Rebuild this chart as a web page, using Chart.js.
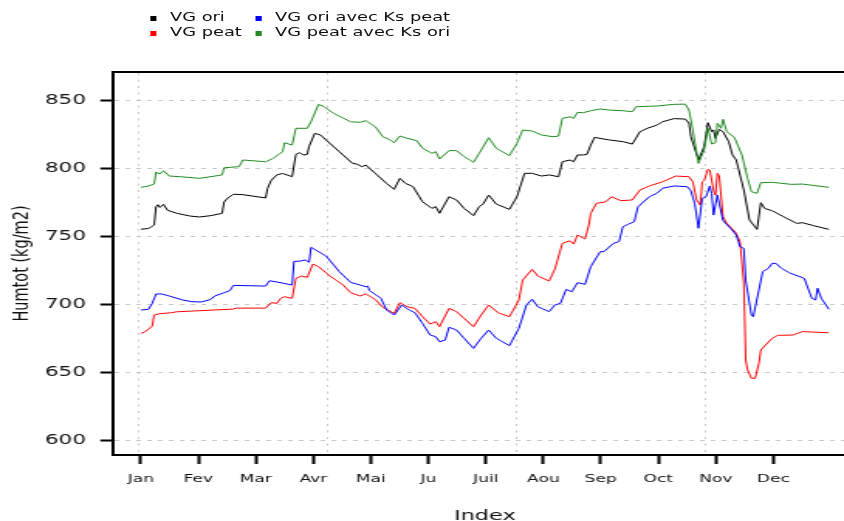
<!DOCTYPE html>
<html>
<head>
<meta charset="utf-8">
<script src="https://cdn.jsdelivr.net/npm/chart.js@4.4.0/dist/chart.umd.min.js"></script>
<style>
  html, body { margin: 0; padding: 0; background: #fff; overflow: hidden; width: 844px; height: 521px; }
  /* the reference is a plot stretched sideways, so draw narrow and stretch */
  #stage { position: absolute; left: 0; top: 0; width: 560px; height: 525px; transform: scaleX(1.5486); transform-origin: 0 0; }
  #legend { position: absolute; left: 0; top: 0; font-family: "DejaVu Sans", sans-serif; font-size: 11.5px; color: #111; }
  .item { position: absolute; white-space: nowrap; height: 15px; line-height: 15px; }
  .item i { position: absolute; left: 0; top: 5.5px; width: 4.6px; height: 5.2px; }
  .item span { position: absolute; left: 12.9px; top: 0; }
</style>
</head>
<body>
<div id="stage">
  <canvas id="chart"></canvas>
  <div id="legend"></div>
</div>
<script>
const seriesNames = ["VG ori", "VG peat", "VG ori avec Ks peat", "VG peat avec Ks ori"];
const seriesColors = ["#000000", "#ff0000", "#0000ff", "#228b22"];
const monthLabels = ["Jan", "Fev", "Mar", "Avr", "Mai", "Ju", "Juil", "Aou", "Sep", "Oct", "Nov", "Dec"];
const yTicks = [600, 650, 700, 750, 800, 850];
const gridDays = [0, 100, 200, 300];

// VG ori (black)
const oriDays = [1, 5, 8, 9, 10, 11, 13, 15, 20, 27, 32, 38, 44, 45, 47, 50, 55, 67, 68, 70, 73, 76, 81, 83, 85, 87, 89, 90, 93, 96,
  106, 113, 115, 118, 120, 125, 131, 135, 138, 141, 145, 150, 155, 157, 159, 164, 168, 172, 177, 180, 182, 185, 189, 196, 200,
  204, 208, 213, 217, 222, 224, 228, 230, 232, 235, 237, 239, 241, 249, 256, 261, 265, 269, 274, 277, 283, 289, 291, 292, 296,
  299, 301, 303, 304, 305, 307, 309, 312, 314, 316, 320, 323, 327, 329, 331, 335, 341, 348, 351, 357, 365];
const oriValues = [755, 755.5, 758, 771.5, 773, 771, 773.3, 769, 766.7, 764.7, 764, 765, 766.7, 775, 778, 780.7, 780.4, 778, 785, 791, 795, 796, 793.6, 810, 811.3, 809.5, 810, 816, 825.5, 824.3,
  812, 803.4, 803, 801, 802.2, 796.1, 788.7, 784.3, 792.4, 788.7, 786.3, 775.2, 770.3, 771.6, 766.7, 778.9, 776.5, 770.3, 765, 771.6, 773.5, 780.1, 773.5, 769.6, 778.9,
  796.1, 796.1, 794.1, 794.9, 793.6, 804.6, 805.9, 804.6, 809.6, 809.6, 810, 816.9, 822.5, 820.6, 819.4, 817.6, 826.7, 829.2, 831.6, 834, 836.3, 836, 832.9, 823, 805.9,
  815.7, 833.3, 826.7, 828, 821.8, 828.4, 826.7, 819.4, 809.6, 805.9, 783.8, 761.8, 754.9, 774.5, 770.3, 768.6, 764.2, 759.3, 759.8, 757.6, 754.9];

// VG peat (red)
const peatDays = [1, 3, 7, 8, 11, 17, 20, 50, 51, 67, 70, 73, 75, 77, 81, 83, 86, 89, 92, 95, 101, 108, 112, 117, 120, 125, 129, 135, 138,
  142, 146, 150, 154, 157, 159, 164, 168, 172, 177, 181, 185, 190, 196, 201, 203, 208, 211, 217, 220, 224, 228, 230, 232, 236, 238,
  239, 242, 247, 250, 255, 261, 265, 270, 277, 284, 291, 293, 295, 297, 298, 299, 301, 302, 304, 305, 306, 307, 309, 311, 316, 318,
  320, 321, 322, 324, 326, 328, 329, 331, 335, 338, 346, 351, 365];
const peatValues = [678.4, 679.4, 683.8, 691.9, 692.9, 693.6, 694.3, 696.3, 697, 697, 701, 700.5, 704.2, 705.4, 704.2, 718.9, 720.6, 719.6, 729.4, 727.5, 720.6, 714, 708.3, 705.9, 707.4, 703.4, 697.6, 693.1, 701,
  698, 696.8, 690.7, 685.3, 687, 683.3, 696.8, 694.4, 689.5, 683.3, 691.9, 699.3, 693.6, 690.7, 702.9, 717.6, 725.5, 720.6, 716.9, 725.5, 744.6, 746.5, 744.1, 750.7, 747.8, 758.1,
  766.7, 774, 775.2, 778.9, 776, 776.5, 783.8, 786.8, 789.9, 794.1, 793.6, 789.9, 776.5, 772.8, 789.9, 790.7, 799, 798.5, 783.8, 780.1, 796.1, 794.1, 764.2, 759.3, 752, 745.8,
  715.2, 658.8, 651.5, 645.4, 645.4, 656.4, 666.2, 669.1, 674.8, 677, 677.2, 679.7, 678.9];

// VG ori avec Ks peat (blue)
const oriKsDays = [1, 5, 7, 9, 12, 16, 23, 28, 33, 38, 40, 45, 48, 50, 67, 69, 73, 81, 82, 85, 88, 90, 91, 99, 106, 112, 117, 120, 121,
  122, 128, 131, 135, 139, 143, 146, 150, 154, 157, 159, 162, 164, 168, 172, 177, 181, 185, 189, 196, 201, 205, 208, 211, 217, 220,
  223, 226, 229, 232, 236, 239, 244, 246, 251, 254, 256, 259, 262, 264, 270, 274, 277, 283, 290, 292, 294, 296, 298, 300, 302, 303,
  304, 306, 307, 309, 313, 316, 318, 320, 321, 324, 325, 328, 330, 333, 335, 337, 340, 344, 352, 356, 358, 359, 361, 365];
const oriKsValues = [695.6, 696.1, 700.5, 707.4, 707.4, 705.9, 703, 701.7, 701.5, 703.4, 705.9, 708.3, 709.8, 713.7, 713.2, 717.1, 716.2, 714, 731.4, 731.5, 732.4, 730.7, 741.7, 735.3, 723.8, 715.9, 714, 712.7, 713.2,
  709.8, 704.2, 695.6, 691.9, 699.3, 695.6, 693.6, 685.8, 677.2, 676, 672.3, 673.5, 682.9, 680.9, 674.8, 667.4, 674.8, 680.9, 674.8, 669.4, 682.1, 699.3, 703.5, 698, 694.4, 699.3,
  700.5, 710.8, 709, 715.7, 714.5, 727.5, 738.5, 738.5, 744.6, 745.9, 756.8, 758.8, 760.5, 771.5, 778.9, 781.4, 785.1, 786.8, 786.3, 783.3, 774, 755.7, 777.7, 778.9, 786.8, 781.4,
  765.4, 780.1, 774, 761.3, 755.7, 750.7, 742.1, 740.9, 717.6, 691.9, 690.7, 710.3, 723.8, 726.2, 729.9, 729.9, 726.2, 723, 718.9, 704.2, 703, 711.6, 704.2, 696.1];

// VG peat avec Ks ori (green)
const peatKsDays = [1, 5, 8, 9, 11, 13, 16, 22, 32, 44, 45, 53, 55, 67, 71, 76, 77, 81, 83, 89, 91, 95, 98, 103, 112, 117, 120, 125, 129,
  132, 135, 138, 142, 147, 150, 155, 157, 159, 164, 168, 172, 177, 180, 185, 189, 196, 200, 203, 208, 213, 219, 222, 224, 228, 230,
  232, 235, 239, 244, 249, 256, 261, 263, 274, 283, 289, 291, 293, 296, 299, 301, 303, 305, 306, 308, 309, 311, 315, 319, 322, 324,
  327, 329, 335, 345, 351, 365];
const peatKsValues = [785.8, 786.8, 788.2, 797, 795.6, 798, 794.1, 793.6, 792.4, 794.9, 800.2, 801, 805.9, 804.6, 807.1, 812, 818.6, 816.9, 829.2, 829.2, 834, 846.8, 845.1, 840.2, 834, 833.6, 834.8, 830.4, 823,
  821.3, 818.6, 823.5, 821.8, 820.1, 814.5, 810.8, 812, 806.6, 812.8, 812.8, 808.4, 804.2, 810.8, 822.3, 814.5, 809.1, 818.2, 827.9, 827.2, 824.3, 823, 823.5, 836.5, 837.7, 836.5,
  840.9, 840.7, 842.1, 843.4, 842.6, 842.1, 841.4, 845.1, 845.6, 846.8, 847, 842.6, 827.9, 803.4, 813.2, 829.2, 817.6, 818.6, 832.9, 829.2, 835.8, 826.7, 822.5, 809.6, 792.4, 782.6,
  781.4, 789.2, 789.5, 788, 788.2, 785.8];

const seriesDays = [oriDays, peatDays, oriKsDays, peatKsDays];
const seriesValues = [oriValues, peatValues, oriKsValues, peatKsValues];
const monthTicks = monthLabels.map((m, i) => 1 + (i * 365) / 12);

const family = '"DejaVu Sans", sans-serif';

const datasets = seriesNames.map((name, i) => ({
  label: name,
  data: seriesDays[i].map((d, k) => ({ x: d, y: seriesValues[i][k] })),
  borderColor: seriesColors[i],
  backgroundColor: seriesColors[i],
  borderWidth: 1,
  pointRadius: 0,
  tension: 0,
  fill: false,
  order: 4 - i,
}));

new Chart(document.getElementById("chart"), {
  type: "line",
  data: { datasets },
  options: {
    responsive: true,
    maintainAspectRatio: false,
    animation: false,
    layout: { padding: { top: 72, right: 7, left: 0, bottom: 0 } },
    plugins: { legend: { display: false }, tooltip: { enabled: false } },
    scales: {
      x: {
        type: "linear",
        position: "bottom",
        min: -13.56,
        max: 379.56,
        afterBuildTicks: (scale) => { scale.ticks = monthTicks.map((v) => ({ value: v })); },
        afterFit: (scale) => { scale.height = 70; },
        ticks: {
          autoSkip: false,
          maxRotation: 0,
          padding: 9,
          color: "#111",
          font: { family, size: 11 },
          callback: (value, index) => monthLabels[index],
        },
        grid: { drawOnChartArea: false, drawTicks: true, tickLength: 9, tickWidth: 2, tickColor: "#000" },
        border: { display: true, color: "#000", width: 2 },
        title: { display: true, text: "Index", color: "#111", font: { family, size: 14.5 }, padding: { top: 0, bottom: 0 } },
      },
      xGrid: {
        type: "linear",
        position: "top",
        min: -13.56,
        max: 379.56,
        afterBuildTicks: (scale) => { scale.ticks = gridDays.map((v) => ({ value: v })); },
        afterFit: (scale) => { scale.height = 0; },
        ticks: { display: false },
        grid: { drawOnChartArea: true, drawTicks: false, color: "#c8c8c8", lineWidth: 1 },
        border: { display: true, color: "#000", width: 2, dash: [2, 4.5] },
      },
      y: {
        type: "linear",
        min: 589,
        max: 870.6,
        afterBuildTicks: (scale) => { scale.ticks = yTicks.map((v) => ({ value: v })); },
        afterFit: (scale) => { scale.width = 73.2; },
        ticks: { padding: 9.3, color: "#111", font: { family, size: 13.9 } },
        grid: { color: "#c8c8c8", lineWidth: 1, tickLength: 8.4, tickWidth: 2, tickColor: "#000" },
        border: { display: true, color: "#000", width: 2, dash: [3, 4] },
        title: { display: true, text: "Humtot (kg/m2)", color: "#111", font: { family, size: 14.5 }, padding: { top: 6, bottom: 0 } },
      },
    },
  },
});

// two-column legend, filled by column like the original
const legendSpots = [[96.9, 10], [96.9, 25], [164.7, 10], [164.7, 25]];
const legend = document.getElementById("legend");
seriesNames.forEach((name, i) => {
  const item = document.createElement("div");
  item.className = "item";
  item.style.left = legendSpots[i][0] + "px";
  item.style.top = legendSpots[i][1] + "px";
  const box = document.createElement("i");
  box.style.background = seriesColors[i];
  const text = document.createElement("span");
  text.textContent = name;
  item.appendChild(box);
  item.appendChild(text);
  legend.appendChild(item);
});
</script>
</body>
</html>
